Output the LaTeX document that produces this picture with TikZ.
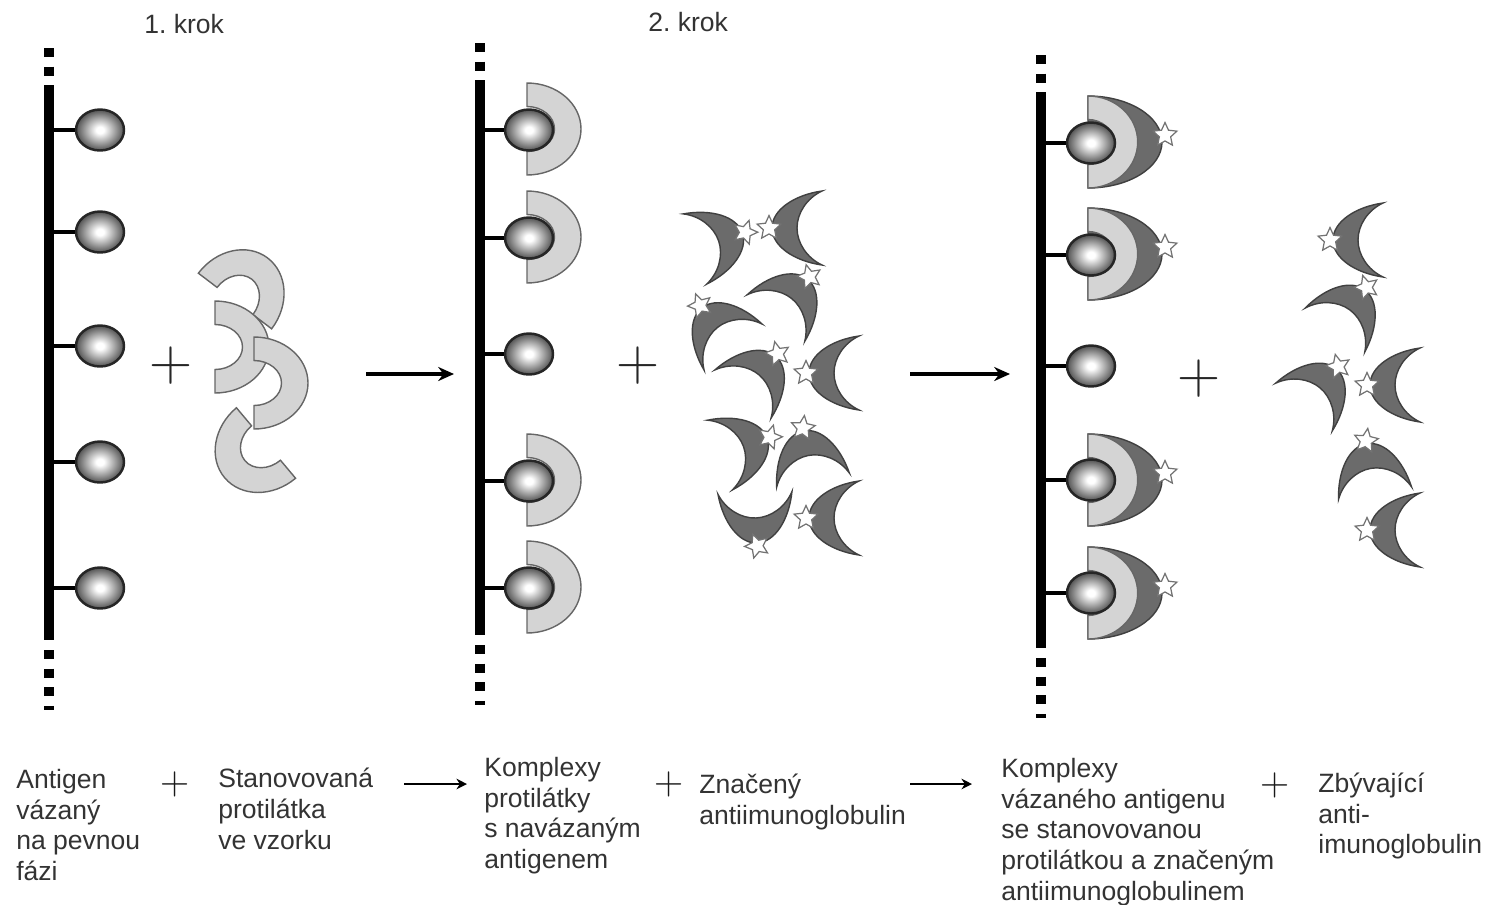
\documentclass[tikz,border=0pt]{standalone}
\usepackage{fontspec}
\newfontfamily\labelfont{Liberation Sans}
\usetikzlibrary{arrows.meta}
\usetikzlibrary{shapes.geometric}
\usetikzlibrary{positioning}

\definecolor{ringgray}{gray}{0.83}
\definecolor{moongray}{gray}{0.42}
\pgfdeclareradialshading{antigenball}{\pgfpoint{0bp}{0bp}}{color(0bp)=(white); color(4bp)=(white); color(14bp)=(black!32); color(25bp)=(black!68); color(50bp)=(black!68)}

\tikzset{
	caption/.style={font=\labelfont\fontsize{15.1}{17.5}\selectfont\frenchspacing,align=left,anchor=west,inner sep=0pt,text=black!80},
	bigplus/.style={font=\fontsize{34}{34}\selectfont,inner sep=0pt,text=black!85},
	smallplus/.style={font=\fontsize{23}{23}\selectfont,inner sep=0pt,text=black!90},
	antigen/.style={ellipse,draw=black!85,line width=1.4pt,minimum width=48*0.02cm,minimum height=41*0.02cm,inner sep=0pt,shading=antigenball},
	stem/.style={line width=2.3pt,black},
	axisline/.style={line width=5.8pt,black},
	axisdots/.style={line width=6pt,black,dash pattern=on 5.2pt off 5.4pt},
	ringshape/.style={fill=ringgray,draw=black!60,line width=0.8pt},
	moonshape/.style={fill=moongray,draw=black!75,line width=0.8pt},
	starmark/.style={star,star points=5,star point ratio=2.1,minimum size=25*0.02cm,inner sep=0pt,fill=white,draw=black!55,line width=0.7pt,transform shape},
	bigarrow/.style={-{Stealth[length=9pt,width=8pt]},line width=1.8pt,black},
	smallarrow/.style={-{Stealth[length=6pt,width=6pt]},line width=1.3pt,black},
	pics/ring/.style={code={
		\draw[ringshape] (0,-46) arc[start angle=-90,end angle=90,x radius=54,y radius=46]
			-- (0,22.5) arc[start angle=90,end angle=-90,x radius=27.5,y radius=22.5] -- cycle;
	}},
	pics/crescent/.style={code={
		\draw[moonshape] (0,-37) .. controls (-28,-33) and (-50,-18) .. (-50,0)
			.. controls (-50,18) and (-28,33) .. (0,37)
			.. controls (-15,30) and (-25,15) .. (-25,0)
			.. controls (-25,-15) and (-15,-30) .. (0,-37) -- cycle;
		\node[starmark] (star) at (-53,0) {};
	}},
	pics/boundmoon/.style={code={
		\draw[moonshape] (0,-46) arc[start angle=-90,end angle=90,x radius=74,y radius=46] -- cycle;
		\node[starmark] (star) at (77,-7) {};
		\pic[xscale=0.92] {ring};
	}},
}

\begin{document}
\begin{tikzpicture}[x=0.02cm,y=-0.02cm]
	\useasboundingbox (0,0) rectangle (1501,904);

	% first column
	\coordinate (topone) at (49,85);
	\coordinate (botone) at (49,640);
	\draw[axisline] (topone) -- (botone);
	\draw[axisdots] (49,48) -- (49,78);
	\draw[axisdots] (49,650) -- (49,710);
	\foreach \i/\y in {1/130,2/232,3/346,4/462,5/588}{
		\node[antigen] (one\i) at (100,\y) {};
		\draw[stem] (topone |- one\i) -- (one\i);
	}

	% free antibodies
	\pic (ringa) [rotate=52.8] at (235,301) {ring};
	\pic (ringb) at (215,347) {ring};
	\pic (ringd) [rotate=-140] at (266,443) {ring};
	\pic (ringc) at (254,383) {ring};

	% second column
	\coordinate (toptwo) at (480,80);
	\coordinate (bottwo) at (480,635);
	\draw[axisline] (toptwo) -- (bottwo);
	\draw[axisdots] (480,43) -- (480,73);
	\draw[axisdots] (480,645) -- (480,705);
	\foreach \i/\y in {1/129,2/237,4/480,5/587}{
		\pic (ringtwo\i) at (527,\y) {ring};
	}
	\foreach \i/\y in {1/130,2/238,3/354,4/481,5/588}{
		\node[antigen] (two\i) at (529,\y) {};
		\draw[stem] (toptwo |- two\i) -- (two\i);
	}

	% labelled antiglobulin
	\foreach \n/\x/\y/\r in {
		ma/822/228/0, mb/695/249/-161.6, mc/776/318/-129, md/733/347/-51.5,
		me/743/394/-130.7, mf/859/373/0, mg/720/455/-160.3, mh/813/480/-79,
		mi/755/493/92.3, mj/859/518/0}{
		\pic (\n) [rotate=\r] at (\x,\y) {crescent};
	}

	% third column
	\coordinate (topthree) at (1041,92);
	\coordinate (botthree) at (1041,648);
	\draw[axisline] (topthree) -- (botthree);
	\draw[axisdots] (1041,55) -- (1041,85);
	\draw[axisdots] (1041,658) -- (1041,718);
	\foreach \i/\y in {1/142,2/254,4/480,5/593}{
		\pic (bound\i) at (1088,\y) {boundmoon};
	}
	\foreach \i/\y in {1/143,2/255,3/366,4/480,5/593}{
		\node[antigen] (three\i) at (1091,\y) {};
		\draw[stem] (topthree |- three\i) -- (three\i);
	}

	% remaining antiglobulin
	\foreach \n/\x/\y/\r in {
		na/1383/240/0, nb/1335/330/-126.4, nc/1304/407/-130.2,
		nd/1420/385/0, ne/1375/493/-80.2, nf/1420/530/0}{
		\pic (\n) [rotate=\r] at (\x,\y) {crescent};
	}

	% upper plus signs and arrows
	\node[bigplus] (plusa) at (171,366) {+};
	\node[bigplus] (plusb) at (638,366) {+};
	\node[bigplus] (plusc) at (1199,379) {+};
	\coordinate (arra) at (366,374);
	\coordinate (arrb) at (454,374);
	\coordinate (arrc) at (910,374);
	\coordinate (arrd) at (1010,374);
	\draw[bigarrow] (arra) -- (arrb);
	\draw[bigarrow] (arrc) -- (arrd);

	% step headings
	\node[caption] (krokone) at (144,24) {1. krok};
	\node[caption] (kroktwo) at (648,22) {2. krok};

	% lower row of captions
	\node[caption] (capa) at (16,825) {Antigen\\vázaný\\na pevnou\\fázi};
	\node[caption] (capb) at (218,809) {Stanovovaná\\protilátka\\ve vzorku};
	\node[caption] (capc) at (484,815.5) {Komplexy\\protilátky\\s navázaným\\antigenem};
	\node[caption] (capd) at (699,802) {Značený\\antiimunoglobulin};
	\node[caption] (cape) at (1001,832) {Komplexy\\vázaného antigenu\\se stanovovanou\\protilátkou a značeným\\antiimunoglobulinem};
	\node[caption] (capf) at (1318,816) {Zbývající\\anti-\\imunoglobulin};
	\node[smallplus] (plusd) at (175,784) {+};
	\node[smallplus] (pluse) at (669,784) {+};
	\node[smallplus] (plusf) at (1275,785) {+};
	\coordinate (arre) at (404,784);
	\coordinate (arrf) at (467,784);
	\coordinate (arrg) at (910,784);
	\coordinate (arrh) at (972,784);
	\draw[smallarrow] (arre) -- (arrf);
	\draw[smallarrow] (arrg) -- (arrh);
\end{tikzpicture}
\end{document}
